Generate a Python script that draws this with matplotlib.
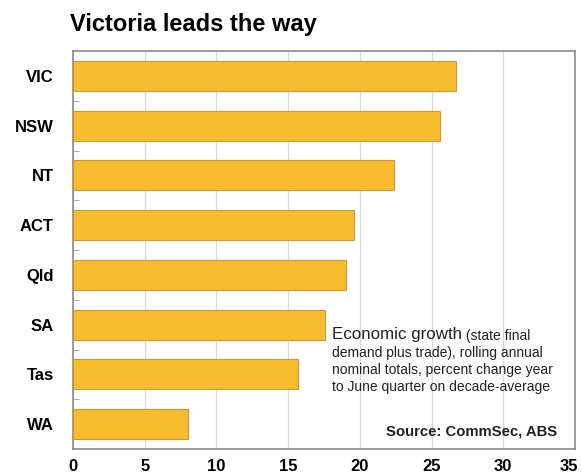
import matplotlib
matplotlib.use("Agg")
import matplotlib.pyplot as plt
from matplotlib.transforms import ScaledTranslation

plt.rcParams['font.family'] = ['Liberation Sans', 'DejaVu Sans']

states = ["VIC", "NSW", "NT", "ACT", "Qld", "SA", "Tas", "WA"]
growth = [26.7, 25.6, 22.4, 19.6, 19.0, 17.6, 15.7, 8.0]
xticks = [0, 5, 10, 15, 20, 25, 30, 35]

W, H = 582, 476
fig = plt.figure(figsize=(W / 100, H / 100), dpi=100)
ax = fig.add_axes([73 / W, 1 - 449 / H, (575 - 73) / W, (449 - 51) / H])

pos = list(range(len(states)))
ax.barh(pos, growth, height=0.6, color='#F9BC2F', edgecolor='#C99A3A',
        linewidth=0.8, zorder=3)

ax.set_ylim(len(states) - 0.5, -0.5)
ax.set_xlim(0, 35)
ax.set_yticks(pos)
ax.set_yticklabels(states, fontsize=12, fontweight='bold')
ax.set_yticks([p + 0.5 for p in pos[:-1]], minor=True)
ax.tick_params(axis='y', which='major', length=0, pad=14)
ax.tick_params(axis='y', which='minor', length=4, direction='in', color='#999999')
ax.set_xticks(xticks)
ax.set_xticklabels([str(t) for t in xticks], fontsize=12, fontweight='bold')
ax.tick_params(axis='x', length=0, pad=7)
# last label sits at the figure edge; nudge it inside
last = ax.get_xticklabels()[-1]
last.set_transform(last.get_transform() + ScaledTranslation(-6 / 100, 0, fig.dpi_scale_trans))
ax.grid(axis='x', color='#D8D8D8', linewidth=0.9, zorder=0)
for s in ax.spines.values():
    s.set_color('#8A8A8A')
    s.set_linewidth(1.2)

fig.text(70 / W, 1 - 24 / H, "Victoria leads the way", fontsize=17,
         fontweight='bold', va='center', ha='left')

# annotation block
t1 = fig.text(332 / W, 1 - 335 / H, "Economic growth", fontsize=12.2,
              va='center', ha='left', color='#222222')
fig.canvas.draw()
bb = t1.get_window_extent()
fig.text(bb.x1 / W, 1 - 336 / H, " (state final", fontsize=10,
         va='center', ha='left', color='#222222')
rest = ["demand plus trade), rolling annual",
        "nominal totals, percent change year",
        "to June quarter on decade-average"]
for i, line in enumerate(rest):
    fig.text(332 / W, 1 - (353 + 17 * i) / H, line, fontsize=10,
             va='center', ha='left', color='#222222')

fig.text(557 / W, 1 - 432 / H, "Source: CommSec, ABS", fontsize=10.7,
         fontweight='bold', va='center', ha='right', color='#222222')

fig.savefig("out.png", dpi=100)
